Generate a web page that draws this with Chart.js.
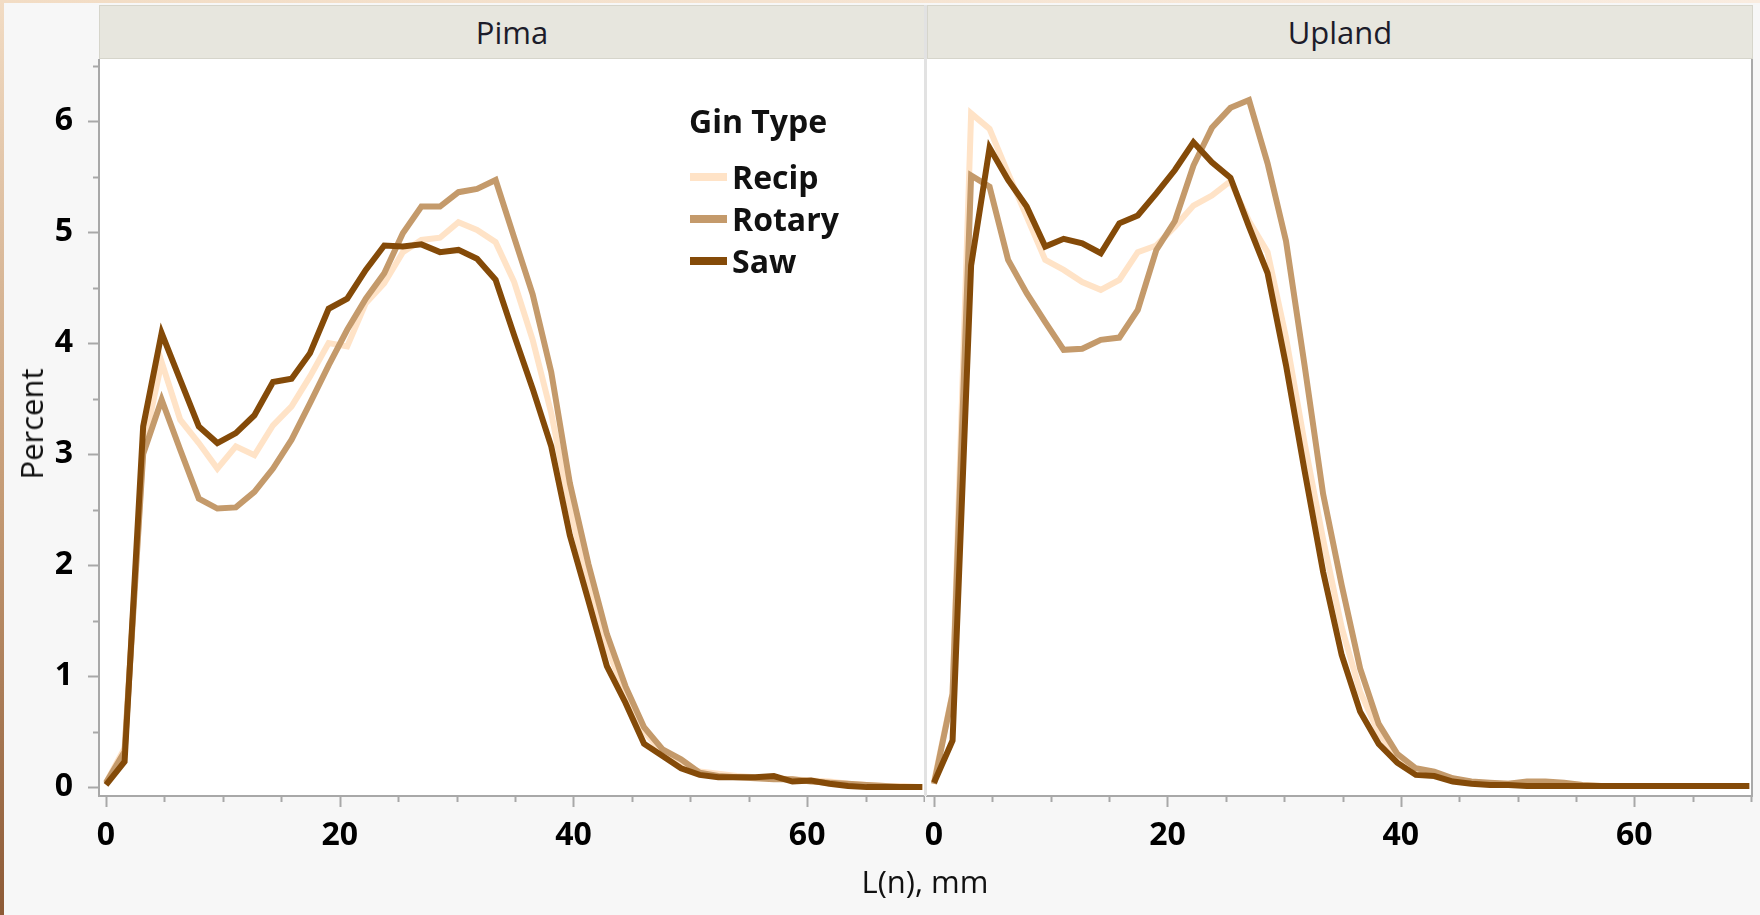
<!DOCTYPE html>
<html>
<head>
<meta charset="utf-8">
<title>Fiber length distribution by gin type</title>
<script src="https://cdn.jsdelivr.net/npm/chart.js@4.4.1/dist/chart.umd.min.js"></script>
<style>
    html, body { margin: 0; padding: 0; }
    body {
        width: 1760px; height: 915px; position: relative; overflow: hidden;
        background: #f7f7f7; font-family: "Open Sans", "Noto Sans", sans-serif; color: #111;
    }
    .edge-left { position: absolute; left: 0; top: 0; width: 4px; height: 915px;
        background: linear-gradient(#f2dcc4, #c49a74 55%, #8d5a36); }
    .edge-top { position: absolute; left: 0; top: 0; width: 1760px; height: 3px;
        background: linear-gradient(90deg, #f2dcc4, #f9ece0); }
    .strip { position: absolute; top: 5px; height: 54px; box-sizing: border-box;
        background: #e7e6de; border: 1px solid #d6d5cb; font-size: 31px; line-height: 52px;
        text-align: center; color: #1c1c2a; }
    .divider { position: absolute; left: 924px; top: 5px; width: 3px; height: 791px; background: #e2e2e2; }
    .frame-right { position: absolute; left: 1751px; top: 59px; width: 2px; height: 738px; background: #a9a9a9; }
    canvas { position: absolute; }
    #pimaWrap { position: absolute; left: 0; top: 59px; width: 925px; height: 856px; }
    #uplandWrap { position: absolute; left: 925px; top: 59px; width: 835px; height: 856px; }
    .ytitle { position: absolute; left: 31px; top: 424px; transform: translate(-50%, -50%) rotate(-90deg);
        font-size: 31px; white-space: nowrap; }
    .xtitle { position: absolute; left: 925px; top: 881px; transform: translate(-50%, -50%);
        font-size: 31px; white-space: nowrap; }
    .legend { position: absolute; left: 689px; top: 100px; font-weight: bold; font-size: 32px; }
    .legend .head { line-height: 42px; margin-bottom: 14px; }
    .legend .item { height: 42px; line-height: 42px; position: relative; padding-left: 43px; }
    .legend .swatch { position: absolute; left: 1px; top: 17px; width: 37px; height: 8px; }
</style>
</head>
<body>
<div class="edge-left"></div>
<div class="edge-top"></div>
<div class="strip" style="left:99px;width:826px;">Pima</div>
<div class="strip" style="left:927px;width:826px;">Upland</div>
<div id="pimaWrap"><canvas id="pimaChart"></canvas></div>
<div id="uplandWrap"><canvas id="uplandChart"></canvas></div>
<div class="divider"></div>
<div class="frame-right"></div>
<div class="ytitle">Percent</div>
<div class="xtitle">L(n), mm</div>
<div class="legend" id="legend"></div>

<script>
// --- DATA ---
// bin positions in mm (1/16 inch classes)
const lengthMm = [0, 1.59, 3.18, 4.76, 6.35, 7.94, 9.53, 11.11, 12.7, 14.29, 15.88, 17.46, 19.05, 20.64, 22.23,
    23.81, 25.4, 26.99, 28.58, 30.16, 31.75, 33.34, 34.93, 36.51, 38.1, 39.69, 41.28, 42.86, 44.45, 46.04,
    47.63, 49.21, 50.8, 52.39, 53.98, 55.56, 57.15, 58.74, 60.33, 61.91, 63.5, 65.09, 66.68, 68.26, 69.85];

const seriesNames = ['Recip', 'Rotary', 'Saw'];
const panelNames = ['Pima', 'Upland'];

const pimaRecip = [0.04, 0.35, 3.05, 3.83, 3.31, 3.10, 2.87, 3.07, 2.99, 3.26, 3.43, 3.70, 4.00, 3.97, 4.36,
    4.54, 4.82, 4.93, 4.95, 5.09, 5.02, 4.91, 4.55, 4.03, 3.37, 2.52, 1.82, 1.27, 0.83, 0.50,
    0.31, 0.20, 0.14, 0.12, 0.10, 0.09, 0.08, 0.07, 0.06, 0.05, 0.03, 0.02, 0.01, 0.01, 0];
const pimaRotary = [0.04, 0.32, 3.00, 3.49, 3.04, 2.60, 2.51, 2.52, 2.66, 2.87, 3.13, 3.46, 3.80, 4.12, 4.40,
    4.63, 4.99, 5.23, 5.23, 5.36, 5.39, 5.47, 4.95, 4.44, 3.74, 2.74, 2.01, 1.38, 0.91, 0.54,
    0.34, 0.25, 0.13, 0.10, 0.09, 0.08, 0.07, 0.07, 0.05, 0.04, 0.03, 0.02, 0.01, 0, 0];
const pimaSaw = [0.02, 0.23, 3.25, 4.09, 3.67, 3.25, 3.10, 3.19, 3.35, 3.65, 3.68, 3.91, 4.31, 4.40, 4.66,
    4.88, 4.87, 4.89, 4.82, 4.84, 4.76, 4.57, 4.07, 3.59, 3.07, 2.27, 1.68, 1.09, 0.76, 0.39,
    0.28, 0.17, 0.11, 0.09, 0.09, 0.09, 0.10, 0.05, 0.06, 0.03, 0.01, 0, 0, 0, 0];

const uplandRecip = [0.05, 0.85, 6.07, 5.93, 5.53, 5.14, 4.75, 4.66, 4.55, 4.48, 4.57, 4.82, 4.88, 5.05, 5.24,
    5.33, 5.46, 5.10, 4.82, 4.05, 3.10, 2.23, 1.44, 0.86, 0.49, 0.26, 0.15, 0.12, 0.07, 0.04,
    0.03, 0.03, 0.04, 0.03, 0.03, 0.02, 0.01, 0.01, 0.01, 0.01, 0.01, 0.01, 0.01, 0.01, 0.01];
const uplandRotary = [0.03, 0.84, 5.51, 5.41, 4.75, 4.45, 4.19, 3.94, 3.95, 4.03, 4.05, 4.30, 4.84, 5.10, 5.60,
    5.94, 6.12, 6.19, 5.62, 4.92, 3.80, 2.64, 1.82, 1.07, 0.57, 0.30, 0.17, 0.14, 0.08, 0.05,
    0.04, 0.03, 0.05, 0.05, 0.04, 0.02, 0.01, 0.01, 0.01, 0.01, 0.01, 0.01, 0.01, 0.01, 0.01];
const uplandSaw = [0.04, 0.42, 4.70, 5.76, 5.47, 5.23, 4.87, 4.94, 4.90, 4.81, 5.08, 5.15, 5.35, 5.56, 5.81,
    5.63, 5.49, 5.05, 4.63, 3.80, 2.85, 1.94, 1.19, 0.68, 0.39, 0.22, 0.11, 0.10, 0.05, 0.03,
    0.02, 0.02, 0.01, 0.01, 0.01, 0.01, 0.01, 0.01, 0.01, 0.01, 0.01, 0.01, 0.01, 0.01, 0.01];

const xTickValues = [0, 5, 10, 15, 20, 25, 30, 35, 40, 45, 50, 55, 60, 65, 70];
const xTickLabels = [0, 20, 40, 60];
const yTickValues = [0, 0.5, 1, 1.5, 2, 2.5, 3, 3.5, 4, 4.5, 5, 5.5, 6, 6.5];
const yTickLabels = [0, 1, 2, 3, 4, 5, 6];

// --- STYLE ---
const seriesColors = { Recip: '#ffe3c7', Rotary: '#c49a6b', Saw: '#844a08' };
const axisGrey = '#a8a8a8';
const tickFont = { family: '"Open Sans", "Noto Sans", sans-serif', size: 32, weight: 'bold' };

// --- PLUGINS ---
const plotBackground = {
    id: 'plotBackground',
    beforeDraw(chart) {
        const { ctx, chartArea: a } = chart;
        ctx.save();
        ctx.fillStyle = '#ffffff';
        ctx.fillRect(a.left, a.top, a.right - a.left, a.bottom - a.top);
        ctx.restore();
    }
};

// major ticks long, minor ticks short, drawn from the scales
const tickMarks = {
    id: 'tickMarks',
    afterDraw(chart, args, opts) {
        const { ctx, chartArea: a } = chart;
        ctx.save();
        ctx.strokeStyle = axisGrey;
        ctx.lineWidth = 2;
        const xs = chart.scales.x;
        xs.ticks.forEach(t => {
            const px = Math.round(xs.getPixelForValue(t.value)) + 0.5;
            const len = xTickLabels.includes(t.value) ? 11 : 6;
            ctx.beginPath();
            ctx.moveTo(px, a.bottom);
            ctx.lineTo(px, a.bottom + len);
            ctx.stroke();
        });
        if (opts.showY) {
            const ys = chart.scales.y;
            ys.ticks.forEach(t => {
                const py = Math.round(ys.getPixelForValue(t.value)) + 0.5;
                const len = yTickLabels.includes(t.value) ? 11 : 6;
                ctx.beginPath();
                ctx.moveTo(a.left - len, py);
                ctx.lineTo(a.left, py);
                ctx.stroke();
            });
        }
        ctx.restore();
    }
};

// keep the plot area exactly where the panel frame is
const noScalePadding = (scale) => {
    scale.paddingTop = 0;
    scale.paddingBottom = 0;
    scale.paddingLeft = 0;
    scale.paddingRight = 0;
};

// --- CHART CREATION ---
const makeDatasets = (recip, rotary, saw) => {
    const values = { Recip: recip, Rotary: rotary, Saw: saw };
    const drawOrder = { Recip: 3, Rotary: 2, Saw: 1 };
    return seriesNames.map(name => ({
        label: name,
        data: lengthMm.map((x, i) => ({ x: x, y: values[name][i] })),
        borderColor: seriesColors[name],
        backgroundColor: seriesColors[name],
        borderWidth: 6,
        pointRadius: 0,
        tension: 0,
        order: drawOrder[name]
    }));
};

const createPanel = (canvasId, datasets, showY) => {
    const ctx = document.getElementById(canvasId).getContext('2d');
    return new Chart(ctx, {
        type: 'line',
        data: { datasets: datasets },
        plugins: [plotBackground, tickMarks],
        options: {
            responsive: true,
            maintainAspectRatio: false,
            animation: false,
            layout: { autoPadding: false, padding: { top: 0, left: 0, right: showY ? 1 : 9, bottom: 0 } },
            plugins: {
                legend: { display: false },
                tooltip: { enabled: false },
                tickMarks: { showY: showY }
            },
            scales: {
                x: {
                    type: 'linear',
                    min: -0.6,
                    max: 70,
                    afterBuildTicks: (scale) => { scale.ticks = xTickValues.map(v => ({ value: v })); },
                    afterFit: (scale) => { scale.height = 119; noScalePadding(scale); },
                    grid: { display: false },
                    border: { display: true, color: axisGrey, width: 2 },
                    ticks: {
                        autoSkip: false,
                        maxRotation: 0,
                        padding: 13,
                        color: '#000',
                        font: tickFont,
                        callback: (value) => xTickLabels.includes(value) ? String(value) : ''
                    }
                },
                y: {
                    type: 'linear',
                    min: -0.08,
                    max: 6.56,
                    afterBuildTicks: (scale) => { scale.ticks = yTickValues.map(v => ({ value: v })); },
                    afterFit: (scale) => { scale.width = showY ? 99 : 2; noScalePadding(scale); },
                    grid: { display: false },
                    border: { display: showY, color: axisGrey, width: 2 },
                    ticks: {
                        display: showY,
                        autoSkip: false,
                        padding: 18,
                        color: '#000',
                        font: tickFont,
                        callback: (value) => yTickLabels.includes(value) ? String(value) : ''
                    }
                }
            }
        }
    });
};

// --- LEGEND ---
const buildLegend = () => {
    const box = document.getElementById('legend');
    box.innerHTML = '<div class="head">Gin Type</div>';
    seriesNames.forEach(name => {
        box.insertAdjacentHTML('beforeend',
            `<div class="item"><span class="swatch" style="background:${seriesColors[name]}"></span>${name}</div>`);
    });
};

// --- INITIAL LOAD ---
createPanel('pimaChart', makeDatasets(pimaRecip, pimaRotary, pimaSaw), true);
createPanel('uplandChart', makeDatasets(uplandRecip, uplandRotary, uplandSaw), false);
buildLegend();
</script>
</body>
</html>
